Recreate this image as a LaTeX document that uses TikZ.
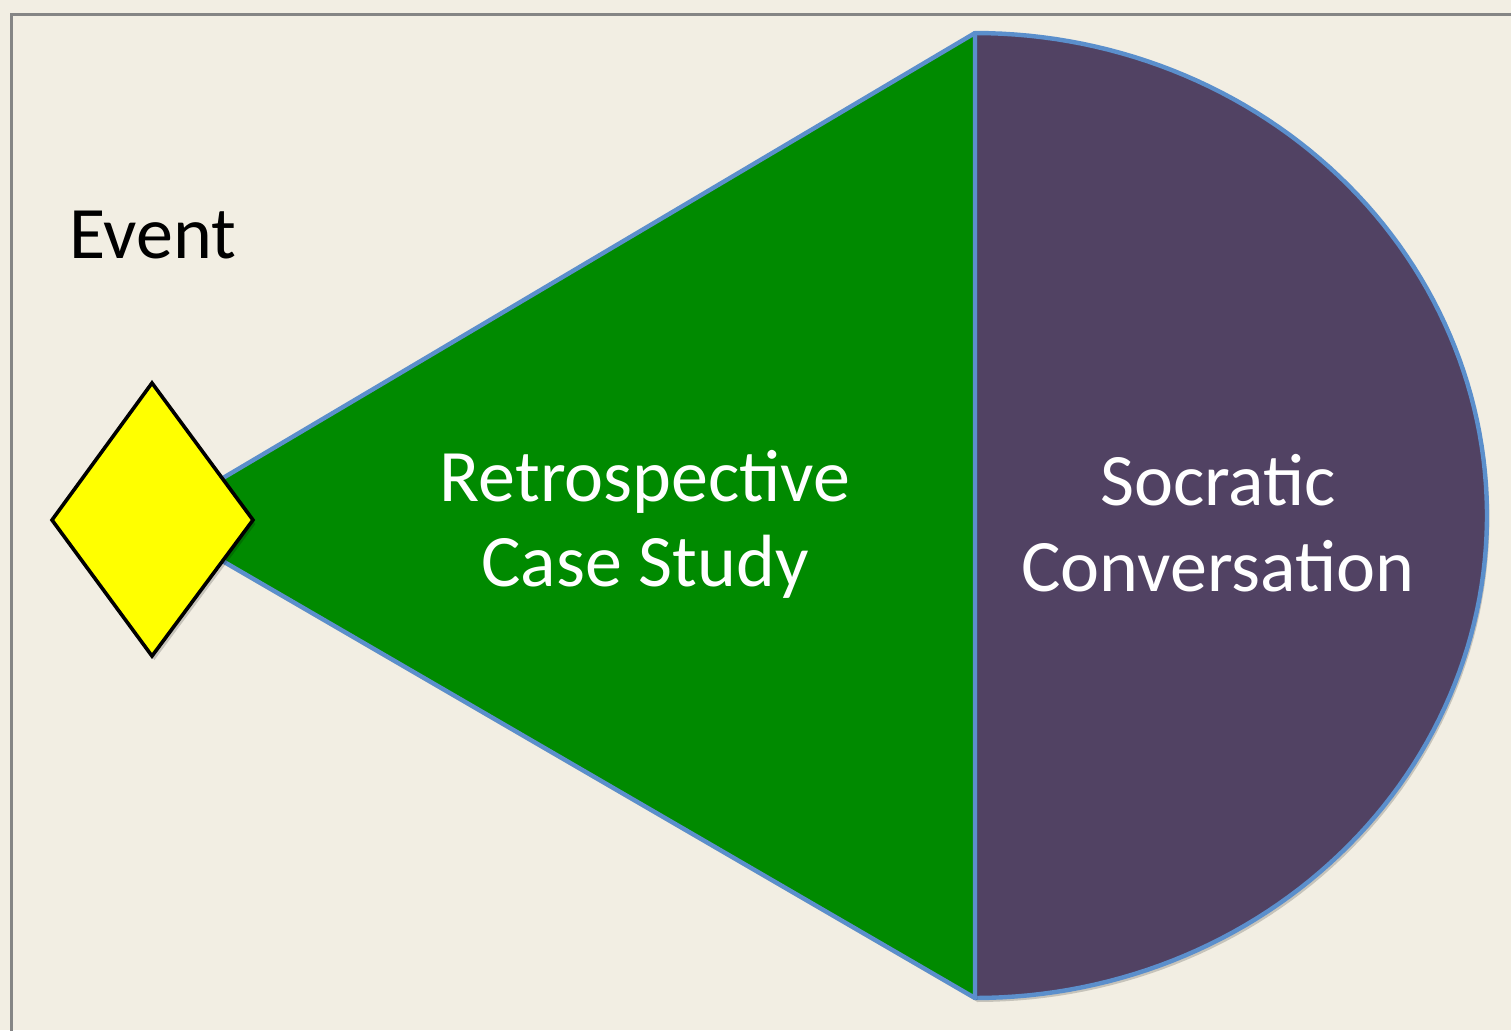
\documentclass[tikz,border=0pt]{standalone}
\usepackage{fontspec}
\setmainfont{Carlito}
\usetikzlibrary{shadows}
\definecolor{bg}{HTML}{F2EEE3}
\definecolor{framegray}{HTML}{858585}
\definecolor{conegreen}{HTML}{008A00}
\definecolor{socpurple}{HTML}{514263}
\definecolor{edgeblue}{HTML}{5B8FCC}
\definecolor{evyellow}{HTML}{FFFF00}
\tikzset{
  bigtext/.style={font=\fontsize{37}{44}\selectfont, inner sep=0pt, anchor=base},
  whitetext/.style={bigtext, text=white},
  shapeedge/.style={draw=edgeblue, line width=2.2pt, line join=round},
  softshadow/.style={drop shadow={shadow xshift=1.2pt, shadow yshift=-2pt, opacity=0.18, fill=black}}
}
\begin{document}
\begin{tikzpicture}[x=0.5pt,y=-0.5pt]
\fill[bg] (0,0) rectangle (1511,1030);
\useasboundingbox (0,0) rectangle (1511,1030);
\draw[framegray, line width=1.8pt] (11.5,1035) -- (11.5,14.5) -- (1516,14.5);
% Socratic half ellipse
\filldraw[fill=socpurple, shapeedge, softshadow]
  plot[domain=-90:90, samples=120] ({975+512*cos(\x)},{515.5+482.5*sin(\x)}) -- cycle;
% Retrospective cone
\filldraw[fill=conegreen, shapeedge, softshadow] (152,520) -- (975,33) -- (975,998) -- cycle;
% Event diamond
\filldraw[fill=evyellow, draw=black, line width=1.8pt, line join=miter, softshadow]
  (152,383) -- (253,520) -- (152,656) -- (52,520) -- cycle;
\coordinate (ev) at (152,520);
\node[bigtext] (event) at (153,258) {Event};
\node[whitetext] (retro1) at (645,501) {Retrospective};
\node[whitetext] (retro2) at (645,586) {Case Study};
\node[whitetext] (socr1) at (1218,505) {Socratic};
\node[whitetext] (socr2) at (1218,591) {Conversation};
\end{tikzpicture}
\end{document}
